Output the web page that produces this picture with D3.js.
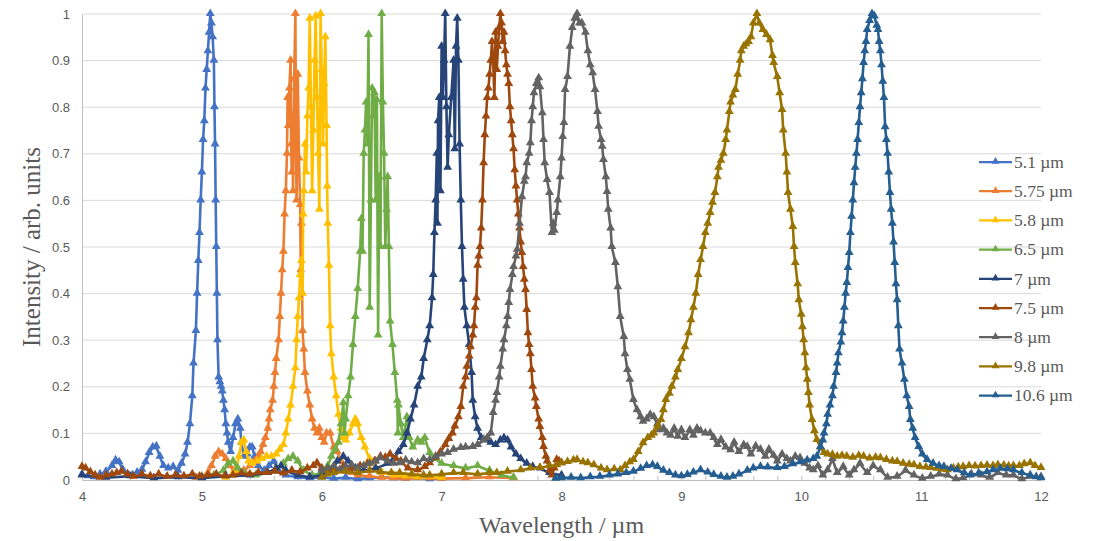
<!DOCTYPE html>
<html>
<head>
<meta charset="utf-8">
<script src="https://cdn.jsdelivr.net/npm/d3@7"></script>
<style>
  body { margin: 0; background: #fff; }
  svg { display: block; }
</style>
</head>
<body>
<div id="chart"></div>
<script>
// wavelength (µm) / intensity pairs, one array per laser line
const s5_1 = [[4.00,0.012],[4.05,0.008],[4.10,0.006],[4.15,0.012],[4.20,0.018],[4.25,0.03],[4.28,0.042],[4.31,0.038],[4.34,0.022],[4.38,0.012],[4.42,0.01],[4.46,0.016],[4.50,0.022],[4.53,0.038],[4.56,0.058],[4.59,0.07],[4.62,0.072],[4.65,0.05],[4.68,0.03],[4.72,0.025],[4.76,0.028],[4.80,0.02],[4.83,0.035],[4.86,0.055],[4.88,0.08],[4.90,0.12],[4.92,0.18],[4.93,0.25],[4.95,0.32],[4.96,0.4],[4.97,0.47],[4.98,0.53],[4.99,0.6],[5.00,0.66],[5.01,0.73],[5.02,0.77],[5.03,0.84],[5.04,0.88],[5.05,0.92],[5.06,0.96],[5.07,1.0],[5.08,0.98],[5.09,0.95],[5.10,0.9],[5.105,0.8],[5.11,0.72],[5.115,0.6],[5.12,0.5],[5.125,0.4],[5.13,0.3],[5.14,0.22],[5.15,0.21],[5.16,0.2],[5.17,0.19],[5.18,0.17],[5.19,0.15],[5.20,0.12],[5.21,0.1],[5.22,0.08],[5.24,0.06],[5.26,0.09],[5.28,0.12],[5.30,0.13],[5.32,0.11],[5.33,0.08],[5.35,0.05],[5.38,0.055],[5.40,0.07],[5.42,0.07],[5.44,0.05],[5.47,0.03],[5.52,0.02],[5.56,0.03],[5.60,0.04],[5.64,0.02],[5.70,0.01],[5.80,0.006],[5.90,0.004],[6.00,0.006],[6.10,0.003],[6.20,0.005],[6.30,0.002],[6.40,0.004],[6.50,0.006],[6.60,0.004],[6.70,0.003],[6.80,0.005],[6.90,0.002],[7.00,0.003]];

const s5_75 = [[4.95,0.005],[5.00,0.008],[5.05,0.015],[5.08,0.03],[5.11,0.05],[5.14,0.06],[5.17,0.055],[5.20,0.045],[5.23,0.03],[5.27,0.02],[5.31,0.015],[5.35,0.02],[5.40,0.03],[5.44,0.04],[5.47,0.05],[5.49,0.06],[5.51,0.075],[5.53,0.09],[5.55,0.11],[5.56,0.13],[5.57,0.15],[5.59,0.17],[5.60,0.2],[5.61,0.23],[5.62,0.26],[5.64,0.3],[5.65,0.35],[5.66,0.4],[5.67,0.45],[5.68,0.49],[5.69,0.57],[5.70,0.62],[5.71,0.7],[5.715,0.82],[5.72,0.76],[5.73,0.84],[5.74,0.9],[5.745,0.72],[5.75,0.66],[5.755,0.78],[5.76,0.62],[5.77,0.86],[5.78,1.0],[5.785,0.7],[5.79,0.6],[5.80,0.87],[5.81,0.69],[5.82,0.59],[5.825,0.45],[5.83,0.55],[5.84,0.32],[5.85,0.28],[5.86,0.23],[5.88,0.19],[5.90,0.16],[5.92,0.13],[5.94,0.11],[5.96,0.1],[5.98,0.11],[6.00,0.09],[6.02,0.08],[6.04,0.1],[6.07,0.1],[6.10,0.07],[6.13,0.06],[6.16,0.04],[6.20,0.025],[6.25,0.015],[6.30,0.01],[6.40,0.008],[6.50,0.005],[6.60,0.004],[6.70,0.003],[6.80,0.005],[6.90,0.004],[7.00,0.003],[7.20,0.004],[7.40,0.006],[7.60,0.004]];

const s5_8 = [[5.20,0.005],[5.25,0.01],[5.28,0.02],[5.31,0.05],[5.33,0.08],[5.35,0.085],[5.37,0.06],[5.39,0.04],[5.42,0.035],[5.46,0.04],[5.50,0.045],[5.54,0.05],[5.58,0.05],[5.62,0.055],[5.65,0.065],[5.68,0.075],[5.70,0.1],[5.72,0.13],[5.74,0.16],[5.76,0.2],[5.78,0.24],[5.79,0.3],[5.80,0.35],[5.81,0.39],[5.82,0.44],[5.83,0.47],[5.84,0.4],[5.845,0.57],[5.85,0.62],[5.86,0.72],[5.87,0.66],[5.88,0.78],[5.89,0.84],[5.90,0.99],[5.91,0.8],[5.92,0.62],[5.93,0.75],[5.94,0.9],[5.95,0.995],[5.96,0.82],[5.97,0.7],[5.98,0.58],[5.985,0.78],[5.99,1.0],[6.00,0.88],[6.01,0.72],[6.02,0.85],[6.03,0.95],[6.04,0.76],[6.045,0.63],[6.05,0.55],[6.06,0.46],[6.07,0.33],[6.08,0.27],[6.10,0.22],[6.12,0.18],[6.14,0.14],[6.16,0.11],[6.18,0.09],[6.20,0.085],[6.23,0.1],[6.26,0.12],[6.28,0.13],[6.30,0.12],[6.33,0.09],[6.36,0.07],[6.40,0.045],[6.45,0.025],[6.50,0.015],[6.60,0.01],[6.70,0.008],[6.80,0.006],[7.00,0.005]];

const s6_5 = [[5.00,0.005],[5.10,0.01],[5.18,0.02],[5.22,0.035],[5.26,0.04],[5.30,0.025],[5.35,0.015],[5.45,0.01],[5.55,0.015],[5.62,0.025],[5.68,0.035],[5.72,0.045],[5.76,0.05],[5.80,0.04],[5.85,0.02],[5.92,0.01],[6.00,0.015],[6.05,0.03],[6.08,0.05],[6.11,0.065],[6.14,0.08],[6.16,0.12],[6.18,0.165],[6.19,0.1],[6.20,0.13],[6.22,0.18],[6.24,0.22],[6.26,0.29],[6.28,0.35],[6.30,0.41],[6.32,0.49],[6.33,0.56],[6.34,0.49],[6.35,0.7],[6.36,0.75],[6.37,0.81],[6.38,0.72],[6.39,0.955],[6.40,0.37],[6.41,0.6],[6.42,0.84],[6.43,0.78],[6.44,0.83],[6.45,0.6],[6.46,0.815],[6.47,0.31],[6.48,0.65],[6.49,0.5],[6.50,1.0],[6.51,0.81],[6.52,0.7],[6.53,0.5],[6.54,0.58],[6.55,0.65],[6.56,0.5],[6.57,0.34],[6.59,0.29],[6.61,0.23],[6.63,0.17],[6.635,0.1],[6.64,0.16],[6.66,0.12],[6.68,0.09],[6.71,0.135],[6.73,0.09],[6.76,0.07],[6.80,0.085],[6.83,0.08],[6.86,0.09],[6.90,0.058],[6.95,0.045],[7.00,0.035],[7.10,0.03],[7.20,0.025],[7.30,0.03],[7.40,0.02],[7.50,0.01],[7.60,0.005]];

const s7 = [[4.00,0.01],[4.20,0.005],[4.40,0.008],[4.60,0.004],[4.80,0.006],[5.00,0.004],[5.20,0.008],[5.40,0.01],[5.55,0.015],[5.62,0.025],[5.66,0.03],[5.70,0.02],[5.80,0.01],[5.90,0.006],[6.00,0.01],[6.08,0.02],[6.13,0.04],[6.18,0.05],[6.22,0.04],[6.28,0.025],[6.35,0.02],[6.45,0.025],[6.55,0.035],[6.60,0.045],[6.64,0.06],[6.68,0.075],[6.71,0.1],[6.74,0.13],[6.77,0.16],[6.80,0.2],[6.83,0.22],[6.85,0.26],[6.88,0.3],[6.90,0.33],[6.92,0.39],[6.93,0.44],[6.94,0.53],[6.95,0.6],[6.96,0.7],[6.965,0.55],[6.97,0.77],[6.98,0.82],[6.99,0.62],[7.00,0.93],[7.01,0.82],[7.02,0.9],[7.03,1.0],[7.04,0.8],[7.05,0.67],[7.06,0.74],[7.08,0.82],[7.10,0.9],[7.11,0.71],[7.12,0.93],[7.13,0.99],[7.14,0.9],[7.15,0.72],[7.16,0.6],[7.17,0.5],[7.18,0.43],[7.19,0.37],[7.21,0.33],[7.23,0.29],[7.25,0.23],[7.26,0.17],[7.28,0.135],[7.30,0.11],[7.33,0.09],[7.37,0.085],[7.41,0.08],[7.45,0.075],[7.49,0.085],[7.52,0.09],[7.55,0.085],[7.58,0.07],[7.62,0.055],[7.66,0.045],[7.71,0.035],[7.76,0.028],[7.82,0.025],[7.90,0.015],[8.00,0.01]];

const s7_5 = [[4.00,0.028],[4.03,0.025],[4.07,0.017],[4.11,0.01],[4.15,0.005],[4.20,0.01],[4.25,0.012],[4.29,0.015],[4.33,0.018],[4.38,0.012],[4.43,0.007],[4.50,0.012],[4.57,0.008],[4.64,0.012],[4.71,0.007],[4.78,0.01],[4.85,0.008],[4.92,0.012],[4.98,0.007],[5.05,0.01],[5.12,0.012],[5.19,0.008],[5.26,0.01],[5.33,0.014],[5.40,0.012],[5.47,0.016],[5.54,0.015],[5.61,0.018],[5.68,0.014],[5.75,0.02],[5.82,0.017],[5.88,0.025],[5.93,0.03],[5.96,0.036],[6.00,0.025],[6.05,0.02],[6.10,0.022],[6.18,0.028],[6.25,0.025],[6.32,0.03],[6.38,0.034],[6.44,0.04],[6.49,0.05],[6.53,0.048],[6.57,0.055],[6.62,0.045],[6.66,0.04],[6.72,0.025],[6.80,0.021],[6.86,0.028],[6.90,0.036],[6.95,0.048],[6.99,0.06],[7.03,0.075],[7.06,0.088],[7.09,0.1],[7.11,0.115],[7.14,0.135],[7.16,0.157],[7.18,0.2],[7.20,0.22],[7.21,0.243],[7.23,0.265],[7.24,0.285],[7.26,0.31],[7.27,0.33],[7.28,0.37],[7.29,0.39],[7.30,0.46],[7.31,0.48],[7.32,0.5],[7.33,0.54],[7.34,0.6],[7.35,0.68],[7.36,0.74],[7.37,0.78],[7.38,0.82],[7.39,0.84],[7.40,0.87],[7.41,0.9],[7.42,0.94],[7.43,0.9],[7.44,0.82],[7.45,0.96],[7.46,0.88],[7.47,0.93],[7.48,0.97],[7.49,1.0],[7.50,0.98],[7.51,0.94],[7.52,0.96],[7.53,0.92],[7.54,0.89],[7.55,0.87],[7.56,0.85],[7.57,0.8],[7.58,0.77],[7.59,0.74],[7.60,0.71],[7.61,0.665],[7.62,0.63],[7.63,0.6],[7.64,0.57],[7.65,0.54],[7.66,0.51],[7.67,0.487],[7.68,0.457],[7.69,0.43],[7.70,0.408],[7.71,0.365],[7.72,0.315],[7.73,0.29],[7.74,0.27],[7.75,0.236],[7.76,0.2],[7.78,0.175],[7.79,0.157],[7.81,0.13],[7.82,0.114],[7.84,0.09],[7.85,0.071],[7.87,0.05],[7.88,0.04],[7.90,0.02],[7.92,0.01],[7.94,0.025],[7.96,0.043],[7.98,0.04],[8.00,0.036]];

const s8 = [[6.00,0.02],[6.05,0.025],[6.10,0.03],[6.15,0.022],[6.20,0.028],[6.25,0.032],[6.30,0.025],[6.35,0.03],[6.40,0.035],[6.45,0.04],[6.49,0.047],[6.55,0.04],[6.60,0.035],[6.65,0.036],[6.70,0.042],[6.75,0.038],[6.80,0.036],[6.85,0.045],[6.90,0.043],[6.95,0.05],[7.00,0.055],[7.05,0.058],[7.10,0.065],[7.16,0.069],[7.20,0.07],[7.26,0.071],[7.30,0.075],[7.35,0.086],[7.38,0.09],[7.41,0.1],[7.43,0.144],[7.45,0.17],[7.46,0.187],[7.48,0.22],[7.49,0.243],[7.51,0.28],[7.52,0.3],[7.54,0.33],[7.55,0.35],[7.56,0.38],[7.57,0.408],[7.59,0.44],[7.60,0.457],[7.62,0.48],[7.63,0.494],[7.65,0.55],[7.67,0.607],[7.69,0.64],[7.70,0.65],[7.71,0.68],[7.73,0.7],[7.74,0.723],[7.75,0.77],[7.76,0.8],[7.77,0.83],[7.79,0.85],[7.81,0.862],[7.82,0.843],[7.84,0.787],[7.85,0.73],[7.86,0.68],[7.88,0.644],[7.90,0.616],[7.92,0.53],[7.93,0.55],[7.94,0.535],[7.96,0.573],[7.97,0.6],[7.99,0.65],[8.00,0.69],[8.01,0.736],[8.02,0.766],[8.03,0.837],[8.05,0.865],[8.07,0.93],[8.09,0.97],[8.11,0.99],[8.13,1.0],[8.15,0.98],[8.17,0.98],[8.20,0.96],[8.22,0.92],[8.24,0.89],[8.26,0.873],[8.28,0.837],[8.30,0.79],[8.31,0.758],[8.33,0.73],[8.34,0.715],[8.35,0.687],[8.37,0.65],[8.38,0.618],[8.39,0.58],[8.41,0.54],[8.42,0.5],[8.45,0.466],[8.47,0.414],[8.49,0.35],[8.52,0.307],[8.53,0.27],[8.55,0.236],[8.57,0.215],[8.60,0.172],[8.63,0.15],[8.66,0.135],[8.68,0.125],[8.71,0.13],[8.74,0.14],[8.77,0.135],[8.80,0.12],[8.82,0.107],[8.85,0.11],[8.88,0.1],[8.91,0.095],[8.94,0.11],[8.97,0.093],[9.00,0.107],[9.03,0.09],[9.07,0.107],[9.10,0.095],[9.13,0.11],[9.16,0.105],[9.20,0.1],[9.24,0.1],[9.27,0.09],[9.30,0.075],[9.33,0.086],[9.37,0.07],[9.41,0.064],[9.44,0.08],[9.48,0.06],[9.52,0.075],[9.55,0.071],[9.58,0.055],[9.62,0.072],[9.66,0.065],[9.70,0.05],[9.73,0.065],[9.77,0.052],[9.80,0.04],[9.84,0.055],[9.88,0.045],[9.91,0.04],[9.95,0.05],[9.99,0.047],[10.03,0.035],[10.07,0.025],[10.10,0.021],[10.14,0.03],[10.18,0.01],[10.22,0.021],[10.26,0.045],[10.30,0.015],[10.35,0.028],[10.40,0.01],[10.44,0.021],[10.49,0.035],[10.55,0.015],[10.60,0.03],[10.66,0.021],[10.72,0.005],[10.80,0.007],[10.87,0.02],[10.94,0.01],[11.01,0.003],[11.08,0.007],[11.15,0.012],[11.22,0.01],[11.29,0.002],[11.35,0.004],[11.42,0.012],[11.50,0.01],[11.57,0.005],[11.64,0.015],[11.71,0.01],[11.77,0.01],[11.84,0.002],[11.91,0.007],[12.00,0.006]];

const s9_8 = [[6.00,0.005],[6.05,0.012],[6.10,0.015],[6.20,0.018],[6.30,0.015],[6.40,0.02],[6.49,0.017],[6.58,0.015],[6.65,0.015],[6.75,0.012],[6.85,0.01],[6.90,0.01],[7.00,0.012],[7.10,0.015],[7.18,0.015],[7.30,0.012],[7.40,0.015],[7.46,0.015],[7.55,0.018],[7.66,0.021],[7.74,0.025],[7.82,0.026],[7.90,0.03],[7.96,0.032],[8.00,0.036],[8.05,0.039],[8.10,0.042],[8.13,0.043],[8.18,0.038],[8.22,0.036],[8.27,0.032],[8.33,0.025],[8.38,0.021],[8.44,0.023],[8.49,0.021],[8.53,0.03],[8.57,0.038],[8.60,0.043],[8.64,0.06],[8.68,0.079],[8.72,0.09],[8.75,0.095],[8.77,0.1],[8.80,0.115],[8.83,0.129],[8.85,0.15],[8.87,0.172],[8.90,0.185],[8.92,0.2],[8.95,0.22],[8.97,0.236],[9.00,0.26],[9.03,0.285],[9.06,0.315],[9.08,0.343],[9.10,0.37],[9.12,0.40],[9.14,0.44],[9.16,0.472],[9.18,0.5],[9.20,0.53],[9.22,0.55],[9.24,0.573],[9.26,0.595],[9.28,0.616],[9.30,0.65],[9.31,0.67],[9.33,0.685],[9.35,0.70],[9.37,0.73],[9.38,0.75],[9.40,0.79],[9.41,0.81],[9.43,0.825],[9.45,0.837],[9.47,0.87],[9.49,0.90],[9.50,0.92],[9.52,0.93],[9.54,0.935],[9.56,0.94],[9.58,0.95],[9.60,0.98],[9.63,1.0],[9.65,0.98],[9.68,0.966],[9.71,0.955],[9.74,0.944],[9.76,0.91],[9.77,0.895],[9.80,0.865],[9.82,0.83],[9.84,0.794],[9.85,0.75],[9.87,0.70],[9.88,0.66],[9.89,0.616],[9.91,0.58],[9.93,0.543],[9.94,0.5],[9.95,0.466],[9.97,0.42],[9.98,0.386],[10.00,0.355],[10.01,0.328],[10.02,0.3],[10.03,0.272],[10.04,0.24],[10.05,0.215],[10.06,0.187],[10.07,0.16],[10.09,0.129],[10.11,0.105],[10.13,0.086],[10.16,0.07],[10.19,0.058],[10.22,0.055],[10.26,0.054],[10.30,0.05],[10.34,0.052],[10.38,0.05],[10.43,0.048],[10.48,0.052],[10.52,0.05],[10.57,0.046],[10.62,0.048],[10.66,0.047],[10.71,0.043],[10.76,0.04],[10.80,0.039],[10.85,0.035],[10.90,0.033],[10.94,0.032],[10.99,0.028],[11.04,0.027],[11.08,0.026],[11.13,0.024],[11.18,0.022],[11.22,0.021],[11.27,0.025],[11.31,0.027],[11.35,0.028],[11.40,0.03],[11.45,0.029],[11.50,0.03],[11.55,0.031],[11.60,0.03],[11.64,0.032],[11.69,0.031],[11.73,0.029],[11.77,0.03],[11.82,0.03],[11.86,0.034],[11.91,0.036],[11.95,0.03],[12.00,0.026]];

const s10_6 = [[7.95,0.003],[8.00,0.004],[8.08,0.005],[8.16,0.004],[8.24,0.006],[8.32,0.007],[8.40,0.01],[8.47,0.012],[8.54,0.015],[8.60,0.018],[8.66,0.024],[8.71,0.03],[8.76,0.032],[8.80,0.028],[8.85,0.02],[8.90,0.015],[8.95,0.01],[9.00,0.008],[9.05,0.011],[9.10,0.016],[9.16,0.021],[9.22,0.016],[9.27,0.011],[9.33,0.007],[9.38,0.005],[9.43,0.007],[9.48,0.012],[9.55,0.02],[9.60,0.025],[9.66,0.028],[9.72,0.027],[9.80,0.026],[9.86,0.028],[9.93,0.034],[9.99,0.038],[10.05,0.042],[10.10,0.045],[10.13,0.05],[10.16,0.071],[10.18,0.085],[10.19,0.1],[10.21,0.12],[10.22,0.14],[10.24,0.16],[10.26,0.18],[10.27,0.2],[10.29,0.23],[10.30,0.25],[10.31,0.272],[10.33,0.295],[10.34,0.315],[10.35,0.34],[10.36,0.37],[10.37,0.4],[10.38,0.423],[10.39,0.455],[10.40,0.487],[10.41,0.53],[10.42,0.565],[10.43,0.6],[10.44,0.637],[10.45,0.67],[10.46,0.70],[10.47,0.73],[10.48,0.766],[10.49,0.8],[10.50,0.83],[10.51,0.86],[10.52,0.895],[10.53,0.92],[10.54,0.94],[10.55,0.966],[10.57,0.985],[10.59,1.0],[10.61,0.995],[10.63,0.975],[10.64,0.966],[10.65,0.94],[10.66,0.92],[10.67,0.89],[10.68,0.855],[10.69,0.82],[10.70,0.757],[10.71,0.73],[10.72,0.7],[10.73,0.66],[10.74,0.616],[10.75,0.58],[10.76,0.55],[10.77,0.51],[10.78,0.466],[10.79,0.42],[10.80,0.386],[10.81,0.33],[10.82,0.28],[10.84,0.25],[10.86,0.215],[10.88,0.18],[10.90,0.157],[10.91,0.129],[10.93,0.11],[10.95,0.09],[10.98,0.071],[11.01,0.055],[11.05,0.043],[11.10,0.035],[11.15,0.03],[11.19,0.028],[11.25,0.024],[11.30,0.021],[11.36,0.015],[11.41,0.01],[11.48,0.014],[11.55,0.017],[11.60,0.021],[11.66,0.024],[11.72,0.023],[11.77,0.021],[11.84,0.015],[11.91,0.01],[11.96,0.006],[12.00,0.004]];

const seriesNames = ["5.1 µm", "5.75 µm", "5.8 µm", "6.5 µm", "7 µm", "7.5 µm", "8 µm", "9.8 µm", "10.6 µm"];
const seriesData = [s5_1, s5_75, s5_8, s6_5, s7, s7_5, s8, s9_8, s10_6];
const seriesColors = ["#4472C4", "#ED7D31", "#FFC000", "#70AD47", "#264478", "#9E480E", "#636363", "#997300", "#255E91"];

const xTicks = [4, 5, 6, 7, 8, 9, 10, 11, 12];
const yTicks = [0, 0.1, 0.2, 0.3, 0.4, 0.5, 0.6, 0.7, 0.8, 0.9, 1];

const width = 1099;
const height = 541;
const margin = { top: 14, right: 58, bottom: 61, left: 82 };

const svg = d3.select("#chart")
  .append("svg")
  .attr("width", width)
  .attr("height", height);

const x = d3.scaleLinear().domain([4, 12]).range([margin.left, width - margin.right]);
const y = d3.scaleLinear().domain([0, 1]).range([height - margin.bottom, margin.top]);

const tickFont = "'Liberation Sans', Arial, sans-serif";
const serif = "'Liberation Serif', 'Times New Roman', serif";
const textGrey = "#595959";

// horizontal gridlines
svg.append("g")
  .selectAll("line")
  .data(yTicks.slice(1))
  .join("line")
  .attr("x1", margin.left)
  .attr("x2", width - margin.right)
  .attr("y1", d => y(d))
  .attr("y2", d => y(d))
  .attr("stroke", "#D9D9D9")
  .attr("stroke-width", 1);

// Y axis
const yAxis = svg.append("g")
  .attr("transform", `translate(${margin.left},0)`)
  .call(d3.axisLeft(y).tickValues(yTicks).tickSize(0).tickPadding(12).tickFormat(d => d3.format("~g")(d)));
yAxis.select(".domain").attr("stroke", "#BFBFBF");
yAxis.selectAll("text")
  .attr("font-family", tickFont)
  .attr("font-size", "13px")
  .attr("fill", textGrey);

// X axis
const xAxis = svg.append("g")
  .attr("transform", `translate(0,${height - margin.bottom})`)
  .call(d3.axisBottom(x).tickValues(xTicks).tickSize(0).tickPadding(12).tickFormat(d3.format("d")));
xAxis.select(".domain").attr("stroke", "#BFBFBF");
xAxis.selectAll("text")
  .attr("font-family", tickFont)
  .attr("font-size", "13px")
  .attr("fill", textGrey);

// small minor ticks along the x axis
svg.append("g")
  .attr("transform", `translate(0,${height - margin.bottom})`)
  .call(d3.axisBottom(x).ticks(40).tickSize(-4).tickFormat(""))
  .call(g => g.select(".domain").remove())
  .selectAll("line")
  .attr("stroke", "#BFBFBF");

// series
const line = d3.line().x(d => x(d[0])).y(d => y(d[1]));
const tri = d3.symbol().type(d3.symbolTriangle).size(34);
const legendTri = d3.symbol().type(d3.symbolTriangle).size(26);

const seriesLayer = svg.append("g");
seriesData.forEach((data, i) => {
  const g = seriesLayer.append("g");
  g.append("path")
    .datum(data)
    .attr("fill", "none")
    .attr("stroke", seriesColors[i])
    .attr("stroke-width", 2.6)
    .attr("stroke-linejoin", "round")
    .attr("d", line);
  g.selectAll("path.mk")
    .data(data)
    .join("path")
    .attr("class", "mk")
    .attr("d", tri)
    .attr("transform", d => `translate(${x(d[0])},${y(d[1]) - 0.5})`)
    .attr("fill", seriesColors[i]);
});

// legend
const legend = svg.append("g")
  .attr("transform", "translate(979, 162)");

const legendItems = legend.selectAll("g")
  .data(seriesNames)
  .join("g")
  .attr("transform", (d, i) => `translate(0, ${i * 29.2})`);

legendItems.append("line")
  .attr("x1", 0)
  .attr("x2", 33)
  .attr("stroke", (d, i) => seriesColors[i])
  .attr("stroke-width", 2.25);

legendItems.append("path")
  .attr("d", legendTri)
  .attr("transform", "translate(16.5,-0.5)")
  .attr("fill", (d, i) => seriesColors[i]);

legendItems.append("text")
  .attr("x", 35)
  .attr("dy", "0.33em")
  .attr("font-family", serif)
  .attr("font-size", "17.5px")
  .attr("fill", textGrey)
  .text(d => d);

// axis titles
svg.append("text")
  .attr("transform", `translate(40, ${(margin.top + height - margin.bottom) / 2}) rotate(-90)`)
  .attr("text-anchor", "middle")
  .attr("font-family", serif)
  .attr("font-size", "25px")
  .attr("fill", textGrey)
  .text("Intensity / arb. units");

svg.append("text")
  .attr("x", (margin.left + width - margin.right) / 2)
  .attr("y", 533)
  .attr("text-anchor", "middle")
  .attr("font-family", serif)
  .attr("font-size", "24px")
  .attr("fill", textGrey)
  .text("Wavelength / µm");
</script>
</body>
</html>
